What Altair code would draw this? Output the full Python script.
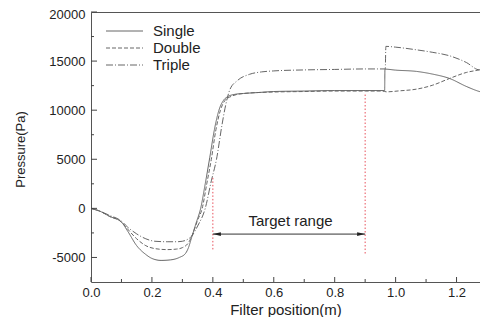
import altair as alt
import pandas as pd

# ---- data ----
single_x = [0, 0.03, 0.06, 0.1, 0.12, 0.15, 0.18, 0.2, 0.23, 0.26, 0.29, 0.31, 0.32, 0.33,
            0.345, 0.36, 0.375, 0.39, 0.405, 0.42, 0.435, 0.45, 0.47, 0.5, 0.55, 0.6, 0.7,
            0.8, 0.9, 0.964, 0.965, 1.0, 1.068, 1.122, 1.177, 1.232, 1.27, 1.3]
single_y = [0, -300, -800, -1400, -2300, -3800, -4700, -5100, -5300, -5250, -5000, -4600,
            -4000, -3000, -1500, 0, 2500, 5200, 8000, 10000, 11000, 11400, 11600, 11700,
            11800, 11900, 11950, 12000, 12000, 12000, 14180, 14080, 13950, 13670, 13230,
            12420, 11950, 11700]

double_x = [0, 0.03, 0.06, 0.1, 0.12, 0.15, 0.18, 0.21, 0.25, 0.28, 0.3, 0.32, 0.33, 0.35,
            0.365, 0.38, 0.395, 0.41, 0.425, 0.44, 0.46, 0.5, 0.6, 0.7, 0.8, 0.9, 0.955,
            0.97, 1.013, 1.068, 1.122, 1.177, 1.232, 1.275, 1.3]
double_y = [0, -300, -800, -1400, -2100, -3100, -3800, -4100, -4200, -4150, -4000, -3500,
            -2900, -1200, 0, 2500, 5000, 8000, 10000, 11000, 11400, 11700, 11850, 11900,
            11950, 11950, 11950, 11870, 11970, 12140, 12550, 13230, 13840, 14110, 14290]

triple_x = [0, 0.03, 0.06, 0.1, 0.12, 0.15, 0.18, 0.21, 0.25, 0.28, 0.3, 0.32, 0.33, 0.35,
            0.375, 0.395, 0.412, 0.43, 0.44, 0.456, 0.48, 0.52, 0.56, 0.6, 0.7, 0.8, 0.9,
            0.966, 0.968, 1.0, 1.068, 1.12, 1.177, 1.232, 1.275, 1.3]
triple_y = [0, -300, -700, -1300, -1900, -2600, -3100, -3350, -3400, -3400, -3350, -3100,
            -2850, -1800, 0, 2800, 5000, 8500, 10200, 12100, 13000, 13650, 13900, 14000,
            14100, 14150, 14200, 14200, 16500, 16420, 16150, 15900, 15540, 14860, 14110, 14300]

series_names = ["Single", "Double", "Triple"]

target_x = [0.4, 0.9]
target_y_low = [-4180, -4600]
target_y_high = [3160, 11730]
arrow_y = -2620
label_text = "Target range"
label_x = 0.655
label_y = -1800

x_major = [0.0, 0.2, 0.4, 0.6, 0.8, 1.0, 1.2]
x_minor = [0.1, 0.3, 0.5, 0.7, 0.9, 1.1]
y_major = [-5000, 0, 5000, 10000, 15000, 20000]
y_minor = [-2500, 2500, 7500, 12500, 17500]

# ---- build ----
W, H = 389, 270           # plot area must end inside the 488px window
X_MAX = 1.3 * W / 396     # keep the reference's pixels-per-metre scale
FONT = "Liberation Sans"
LINE = "#666666"
TXT = "#222222"

frames = []
for name, xs, ys in [("Single", single_x, single_y), ("Double", double_x, double_y),
                     ("Triple", triple_x, triple_y)]:
    frames.append(pd.DataFrame({"x": xs, "y": ys, "series": name, "order": range(len(xs))}))
df = pd.concat(frames, ignore_index=True)

xscale = alt.Scale(domain=[0, X_MAX], nice=False, zero=False)
yscale = alt.Scale(domain=[-7500, 20000], nice=False, zero=False)

dash_scale = alt.Scale(domain=series_names, range=[[1, 0], [4, 2], [7, 2, 1, 2]])

lines = alt.Chart(df).mark_line(color=LINE, strokeWidth=1, interpolate="monotone",
                                clip=True).encode(
    x=alt.X("x:Q", scale=xscale,
            axis=alt.Axis(values=x_major, format=".1f", title="Filter position(m)",
                          labelFlush=False)),
    y=alt.Y("y:Q", scale=yscale,
            axis=alt.Axis(values=y_major, title="Pressure(Pa)",
                          labelOffset={"condition": {"test": "datum.value == 20000", "value": 2.5},
                                       "value": 0},
                          labelExpr="datum.value < 0 ? '-' + format(-datum.value, 'd') : format(datum.value, 'd')")),
    strokeDash=alt.StrokeDash("series:N", scale=dash_scale, legend=None),
    detail="series:N",
    order="order:Q",
)

tdf = pd.DataFrame({"x": target_x, "lo": target_y_low, "hi": target_y_high})
red = alt.Chart(tdf).mark_rule(color="#e8505b", strokeWidth=1, strokeDash=[1.5, 2]).encode(
    x=alt.X("x:Q", scale=xscale), y=alt.Y("lo:Q", scale=yscale), y2="hi:Q")

adf = pd.DataFrame({"x": [target_x[0]], "x2": [target_x[1]], "y": [arrow_y]})
arrow = alt.Chart(adf).mark_rule(color="#333333", strokeWidth=1).encode(
    x=alt.X("x:Q", scale=xscale), x2="x2:Q", y=alt.Y("y:Q", scale=yscale))

hl = pd.DataFrame({"x": [target_x[0]], "y": [arrow_y]})
hr = pd.DataFrame({"x": [target_x[1]], "y": [arrow_y]})
head_l = alt.Chart(hl).mark_point(shape="M0,0L2,-0.45L2,0.45Z", size=64, filled=True,
                                  color="#222222", opacity=1).encode(
    x=alt.X("x:Q", scale=xscale), y=alt.Y("y:Q", scale=yscale))
head_r = alt.Chart(hr).mark_point(shape="M0,0L-2,-0.45L-2,0.45Z", size=64, filled=True,
                                  color="#222222", opacity=1).encode(
    x=alt.X("x:Q", scale=xscale), y=alt.Y("y:Q", scale=yscale))

ldf = pd.DataFrame({"x": [label_x], "y": [label_y], "t": [label_text]})
label = alt.Chart(ldf).mark_text(font=FONT, fontSize=15, color=TXT, align="center",
                                 baseline="alphabetic").encode(
    x=alt.X("x:Q", scale=xscale), y=alt.Y("y:Q", scale=yscale), text="t:N")

# inward ticks
xmaj = alt.Chart(pd.DataFrame({"v": x_major})).mark_rule(color="#444", strokeWidth=1).encode(
    x=alt.X("v:Q", scale=xscale), y=alt.value(H), y2=alt.value(H - 5))
xmin = alt.Chart(pd.DataFrame({"v": x_minor})).mark_rule(color="#444", strokeWidth=1).encode(
    x=alt.X("v:Q", scale=xscale), y=alt.value(H), y2=alt.value(H - 3))
ymaj = alt.Chart(pd.DataFrame({"v": y_major})).mark_rule(color="#444", strokeWidth=1).encode(
    y=alt.Y("v:Q", scale=yscale), x=alt.value(0), x2=alt.value(6))
ymin = alt.Chart(pd.DataFrame({"v": y_minor})).mark_rule(color="#444", strokeWidth=1).encode(
    y=alt.Y("v:Q", scale=yscale), x=alt.value(0), x2=alt.value(3))

# legend (manual)
leg_layers = []
leg_dash = {"Single": [1, 0], "Double": [4, 2], "Triple": [7, 2, 1, 2]}
for i, name in enumerate(series_names):
    yy = 19 + 17 * i
    leg_layers.append(
        alt.Chart(pd.DataFrame({"n": [name]})).mark_rule(
            color=LINE, strokeWidth=1, strokeDash=leg_dash[name]).encode(
            x=alt.value(15), x2=alt.value(52), y=alt.value(yy)))
    leg_layers.append(
        alt.Chart(pd.DataFrame({"n": [name]})).mark_text(
            font=FONT, fontSize=15, color=TXT, align="left", baseline="middle").encode(
            x=alt.value(62), y=alt.value(yy), text="n:N"))

chart = alt.layer(
    lines, red, arrow, head_l, head_r, label, xmaj, xmin, ymaj, ymin, *leg_layers
).properties(
    width=W, height=H,
    autosize=alt.AutoSizeParams(type="none"),
    padding={"left": 83, "top": 4, "right": 0, "bottom": 35},
).configure_view(
    stroke="#555555", strokeWidth=1
).configure_axis(
    domain=False, grid=False, ticks=False, labelFont=FONT, labelFontSize=13,
    labelColor=TXT, titleFont=FONT, titleFontWeight="normal", titleColor=TXT,
).configure_axisX(
    labelPadding=4, titleFontSize=15, titleY=32, titleBaseline="alphabetic",
).configure_axisY(
    labelPadding=6, titleFontSize=13, titleX=-71, titleY=137, titleAngle=-90,
    titleBaseline="middle", titleAlign="center",
)

chart.save("out.html", embed_options={"renderer": "svg", "actions": False})
